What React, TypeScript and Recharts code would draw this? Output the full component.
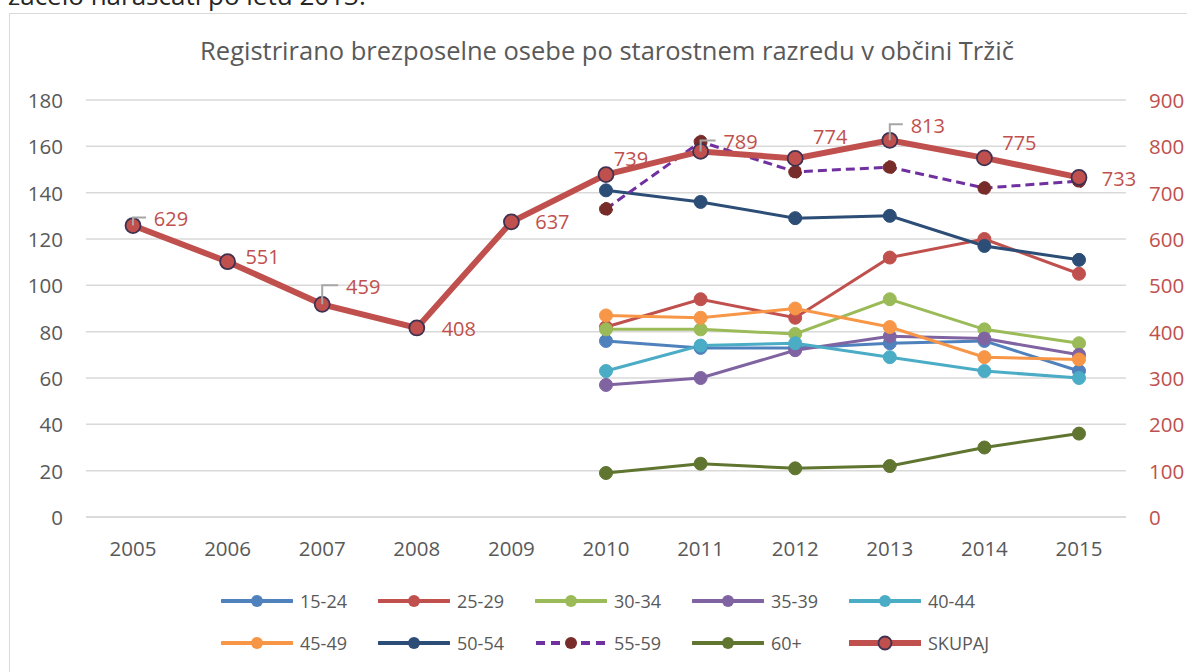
import React from 'react';
import { LineChart, Line, XAxis, YAxis, CartesianGrid } from 'recharts';

const years = ['2005', '2006', '2007', '2008', '2009', '2010', '2011', '2012', '2013', '2014', '2015'];
const g15_24 = [null, null, null, null, null, 76, 73, 73, 75, 76, 63];
const g25_29 = [null, null, null, null, null, 82, 94, 86, 112, 120, 105];
const g30_34 = [null, null, null, null, null, 81, 81, 79, 94, 81, 75];
const g35_39 = [null, null, null, null, null, 57, 60, 72, 78, 77, 70];
const g40_44 = [null, null, null, null, null, 63, 74, 75, 69, 63, 60];
const g45_49 = [null, null, null, null, null, 87, 86, 90, 82, 69, 68];
const g50_54 = [null, null, null, null, null, 141, 136, 129, 130, 117, 111];
const g55_59 = [null, null, null, null, null, 133, 162, 149, 151, 142, 145];
const g60p = [null, null, null, null, null, 19, 23, 21, 22, 30, 36];
const skupaj = [629, 551, 459, 408, 637, 739, 789, 774, 813, 775, 733];
const leftTicks = [0, 20, 40, 60, 80, 100, 120, 140, 160, 180];
const rightTicks = [0, 100, 200, 300, 400, 500, 600, 700, 800, 900];

const titleText = 'Registrirano brezposelne osebe po starostnem razredu v občini Tržič';
const topText = 'začelo naraščati po letu 2013.';

// label placement (style only): offsets from the point, and whether a leader line is drawn
const labelDx = [38, 35, 41, 42, 41, 25, 40, 35, 38, 35, 40];
const labelDy = [-7, -5, -18, 1, 0, -16, -10, -22, -15, -15, 1];
const labelLeader = [true, false, true, false, false, false, true, false, true, false, false];

const FONT = '"Open Sans", "Noto Sans", sans-serif';
const RED = '#c0504d';
const GRAY = '#595959';

type SeriesDef = { key: string; name: string; values: (number | null)[]; color: string; dotColor: string; dash?: string };

const ageSeries: SeriesDef[] = [
  { key: 'a', name: '15-24', values: g15_24, color: '#4f81bd', dotColor: '#4f81bd' },
  { key: 'b', name: '25-29', values: g25_29, color: '#c0504d', dotColor: '#c0504d' },
  { key: 'c', name: '30-34', values: g30_34, color: '#9bbb59', dotColor: '#9bbb59' },
  { key: 'd', name: '35-39', values: g35_39, color: '#8064a2', dotColor: '#8064a2' },
  { key: 'e', name: '40-44', values: g40_44, color: '#4bacc6', dotColor: '#4bacc6' },
  { key: 'f', name: '45-49', values: g45_49, color: '#f79646', dotColor: '#f79646' },
  { key: 'g', name: '50-54', values: g50_54, color: '#2c4d75', dotColor: '#2c4d75' },
  { key: 'h', name: '55-59', values: g55_59, color: '#7030a0', dotColor: '#772c2a', dash: '9 5' },
  { key: 'i', name: '60+', values: g60p, color: '#5f7530', dotColor: '#5f7530' },
];

const data = years.map((y, i) => {
  const row: Record<string, any> = { year: y, total: skupaj[i] };
  ageSeries.forEach((s) => {
    row[s.key] = s.values[i];
  });
  return row;
});

const XTick = (props: any) => (
  <text x={props.x} y={props.y + 31} textAnchor="middle" dominantBaseline="central" fill={GRAY} fontSize={20.5} fontFamily={FONT}>
    {props.payload.value}
  </text>
);
const LTick = (props: any) => (
  <text x={props.x - 23} y={props.y} textAnchor="end" dominantBaseline="central" fill={GRAY} fontSize={20.5} fontFamily={FONT}>
    {props.payload.value}
  </text>
);
const RTick = (props: any) => (
  <text x={props.x + 23} y={props.y} textAnchor="start" dominantBaseline="central" fill={RED} fontSize={20.5} fontFamily={FONT}>
    {props.payload.value}
  </text>
);

const TotalLabel = (props: any) => {
  const { x, y, value, index } = props;
  if (x == null || y == null) return null;
  const lx = x + labelDx[index];
  const ly = y + labelDy[index];
  return (
    <g>
      {labelLeader[index] && (
        <polyline points={`${x},${y} ${x},${ly - 1} ${lx - 25},${ly - 1}`} fill="none" stroke="#a6a6a6" strokeWidth={2} />
      )}
      <text x={lx} y={ly} textAnchor="middle" dominantBaseline="central" fill={RED} fontSize={20} fontFamily={FONT}>
        {value}
      </text>
    </g>
  );
};

const TotalDot = (props: any) => {
  const { cx, cy } = props;
  if (cx == null || cy == null) return null;
  return <circle cx={cx} cy={cy} r={7.5} fill={RED} stroke="#3f3151" strokeWidth={1.8} />;
};

const legendItems = [
  ...ageSeries.map((s) => ({ name: s.name, color: s.color, dotColor: s.dotColor, dash: s.dash, total: false })),
  { name: 'SKUPAJ', color: RED, dotColor: RED, dash: undefined as string | undefined, total: true },
];

const LegendIcon = ({ item }: { item: any }) => (
  <svg width={72} height={20} style={{ display: 'block' }}>
    <line x1={1} y1={10} x2={71} y2={10} stroke={item.color} strokeWidth={item.total ? 6 : 4} strokeDasharray={item.dash ? '9 6' : undefined} strokeLinecap={item.dash ? 'butt' : 'round'} />
    {item.total ? (
      <circle cx={36} cy={10} r={6.5} fill={RED} stroke="#3f3151" strokeWidth={1.8} />
    ) : (
      <circle cx={36} cy={10} r={6} fill={item.dotColor} />
    )}
  </svg>
);

export default function App() {
  return (
    <div style={{ position: 'fixed', left: 0, top: 0, width: 1187, height: 672, overflow: 'hidden', background: '#fff', fontFamily: FONT }}>
      <div style={{ position: 'absolute', left: 8, top: -23, fontSize: 26, lineHeight: '36px', color: '#262626', whiteSpace: 'nowrap' }}>{topText}</div>
      <div style={{ position: 'absolute', left: 9, top: 13, width: 1200, height: 700, border: '1px solid #d9d9d9', boxSizing: 'border-box' }} />
      <div style={{ position: 'absolute', left: 0, top: 0 }}>
        <LineChart width={1187} height={672} data={data} margin={{ top: 100, right: 0, bottom: 0, left: 0 }}>
          <CartesianGrid yAxisId="left" vertical={false} stroke="#d9d9d9" strokeWidth={1.5} />
          <XAxis dataKey="year" height={155} padding={{ left: 47, right: 47 }} tickLine={false} axisLine={{ stroke: '#d9d9d9', strokeWidth: 1.5 }} tickSize={0} tickMargin={0} tick={<XTick />} interval={0} />
          <YAxis yAxisId="left" width={86} domain={[0, 180]} ticks={leftTicks} axisLine={false} tickLine={false} tickSize={0} tickMargin={0} tick={<LTick />} interval={0} />
          <YAxis yAxisId="right" orientation="right" width={61} domain={[0, 900]} ticks={rightTicks} axisLine={false} tickLine={false} tickSize={0} tickMargin={0} tick={<RTick />} interval={0} />
          {ageSeries.map((s) => (
            <Line
              key={s.key}
              yAxisId="left"
              type="linear"
              dataKey={s.key}
              name={s.name}
              stroke={s.color}
              strokeWidth={3}
              strokeDasharray={s.dash}
              dot={{ r: 6.5, fill: s.dotColor, stroke: s.dotColor, strokeWidth: 1 }}
              activeDot={false}
              isAnimationActive={false}
              connectNulls={false}
            />
          ))}
          <Line
            yAxisId="right"
            type="linear"
            dataKey="total"
            name="SKUPAJ"
            stroke={RED}
            strokeWidth={6}
            dot={<TotalDot />}
            activeDot={false}
            label={<TotalLabel />}
            isAnimationActive={false}
          />
        </LineChart>
      </div>
      <div style={{ position: 'absolute', left: 0, top: 32, width: 1214, textAlign: 'center', fontSize: 25.5, lineHeight: '36px', color: GRAY, whiteSpace: 'nowrap' }}>{titleText}</div>
      {legendItems.map((it, i) => {
        const col = i % 5;
        const row = Math.floor(i / 5);
        const left = 221 + col * 157;
        const top = row === 0 ? 591 : 633;
        return (
          <div key={it.name} style={{ position: 'absolute', left, top, height: 20, display: 'flex', alignItems: 'center' }}>
            <LegendIcon item={it} />
            <span style={{ marginLeft: 7, fontSize: 18, lineHeight: '20px', color: GRAY, whiteSpace: 'nowrap' }}>{it.name}</span>
          </div>
        );
      })}
    </div>
  );
}
